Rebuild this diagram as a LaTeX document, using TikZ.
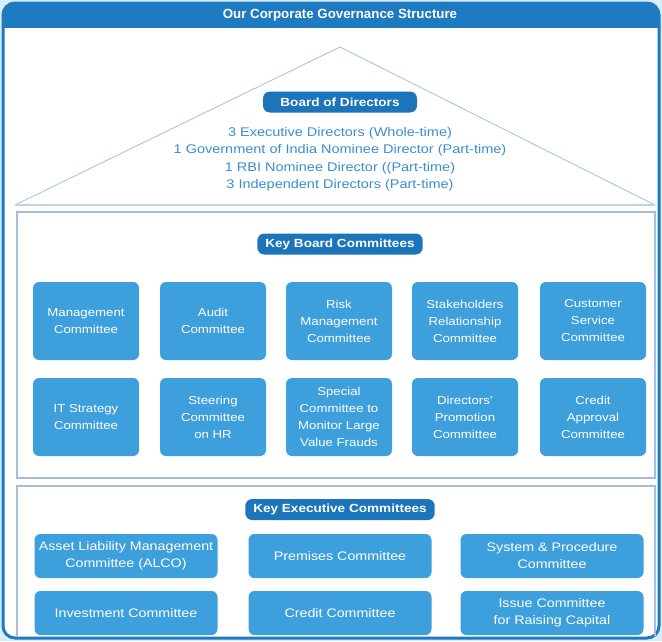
\documentclass[tikz,border=0pt]{standalone}
\usepackage{fontspec}
\setmainfont{Liberation Sans}[FakeStretch=1.15]
\newfontfamily\titlefont{Liberation Sans}
\definecolor{bgblue}{HTML}{D8EDF8}
\definecolor{frameblue}{HTML}{1E7BC2}
\definecolor{boxblue}{HTML}{3D9FDC}
\definecolor{pillblue}{HTML}{1C74BB}
\definecolor{textblue}{HTML}{3A8ED2}
\definecolor{linegray}{HTML}{A6BFD7}
\tikzset{
  pill/.style={fill=pillblue, text=white, rounded corners=7pt, inner xsep=8pt,
    minimum height=21pt, font=\fontsize{11.8}{13}\selectfont\bfseries},
  boardbox/.style={fill=boxblue, text=white, rounded corners=6pt, align=center,
    minimum width=106pt, minimum height=78pt, inner sep=1pt,
    font=\fontsize{11.5}{17}\selectfont},
  execbox/.style={fill=boxblue, text=white, rounded corners=6pt, align=center,
    minimum width=183pt, minimum height=44pt, inner sep=1pt,
    font=\fontsize{12.4}{17}\selectfont},
  panel/.style={draw=linegray, line width=1.2pt}
}
\begin{document}
\begin{tikzpicture}[x=1pt, y=-1pt]
  \useasboundingbox (0,0) rectangle (662,641);
  \fill[bgblue] (0,0) rectangle (662,641);
  \draw[draw=frameblue, fill=white, line width=3pt, rounded corners=12pt] (3,3) rectangle (659,638);
  \begin{scope}
    \clip[rounded corners=12pt] (3,3) rectangle (659,638);
    \fill[frameblue] (0,0) rectangle (662,28);
  \end{scope}
  \node[text=white, font=\fontsize{13.3}{15}\titlefont\bfseries] (title) at (340,15) {Our Corporate Governance Structure};

  % board of directors
  \draw[draw=linegray, thick] (15,205) -- (340,47) -- (655,205);
  \draw[draw=linegray!70, line width=2pt] (15,205) -- (655,205);
  \node[pill, minimum width=154pt] (bod) at (340,102) {Board of Directors};
  \node[text=textblue, align=center, font=\fontsize{12.6}{17.5}\selectfont] (bodtext) at (340,159)
    {3 Executive Directors (Whole-time)\\
     1 Government of India Nominee Director (Part-time)\\
     1 RBI Nominee Director ((Part-time)\\
     3 Independent Directors (Part-time)};

  % key board committees
  \draw[panel] (17,212) rectangle (655,478);
  \node[pill] (kbc) at (340,244) {Key Board Committees};
  \node[boardbox] (mgmt) at (86,321) {Management\\Committee};
  \node[boardbox] (audit) at (213,321) {Audit\\Committee};
  \node[boardbox] (risk) at (339,321) {Risk\\Management\\Committee};
  \node[boardbox] (stake) at (465,321) {Stakeholders\\Relationship\\Committee};
  \node[boardbox] (cust) at (593,321) {Customer\\Service\\Committee};
  \node[boardbox] (itstrat) at (86,417) {IT Strategy\\Committee};
  \node[boardbox] (steer) at (213,417) {Steering\\Committee\\on HR};
  \node[boardbox] (fraud) at (339,417) {Special\\Committee to\\Monitor Large\\Value Frauds};
  \node[boardbox] (promo) at (465,417) {Directors'\\Promotion\\Committee};
  \node[boardbox] (credapp) at (593,417) {Credit\\Approval\\Committee};

  % key executive committees
  \draw[panel] (17,636) -- (17,486) -- (655,486) -- (655,636);
  \node[pill] (kec) at (340,509.5) {Key Executive Committees};
  \node[execbox] (alco) at (126,556) {Asset Liability Management\\Committee (ALCO)};
  \node[execbox] (premises) at (340,556) {Premises Committee};
  \node[execbox] (sysproc) at (552,556) {System \& Procedure\\Committee};
  \node[execbox] (invest) at (126,613) {Investment Committee};
  \node[execbox] (credit) at (340,613) {Credit Committee};
  \node[execbox] (issue) at (552,613) {Issue Committee\\for Raising Capital};
\end{tikzpicture}
\end{document}
